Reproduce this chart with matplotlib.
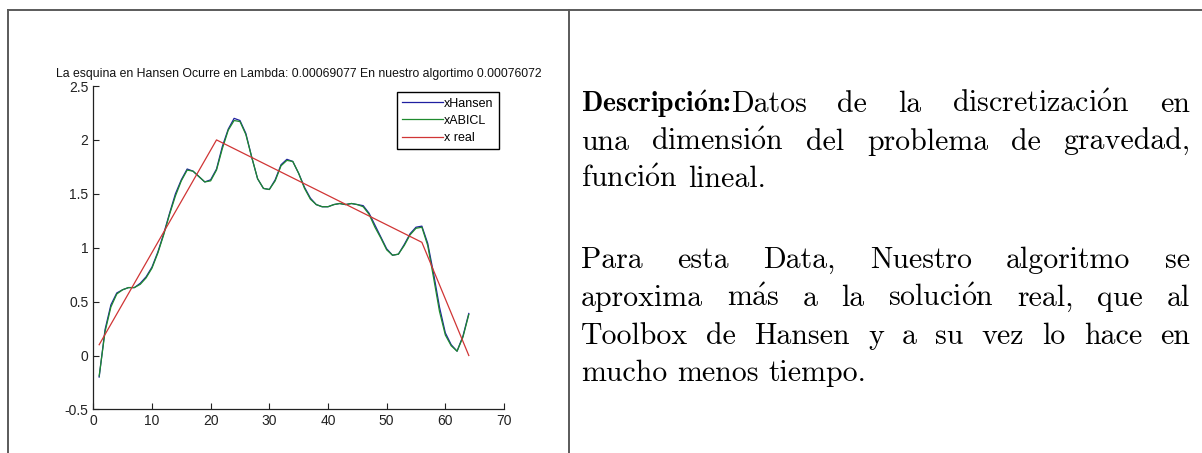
import numpy as np
import matplotlib
matplotlib.use("Agg")
import matplotlib.pyplot as plt
from matplotlib.lines import Line2D

# ---------------------------------------------------------------- data
idx = list(range(1, 65))
x_hansen = [-0.20, 0.24, 0.47, 0.58, 0.61, 0.63, 0.63, 0.67, 0.73, 0.82,
            0.96, 1.13, 1.32, 1.50, 1.63, 1.73, 1.71, 1.66, 1.61, 1.63,
            1.73, 1.94, 2.10, 2.20, 2.18, 2.06, 1.84, 1.64, 1.55, 1.54,
            1.63, 1.77, 1.82, 1.80, 1.69, 1.56, 1.46, 1.40, 1.38, 1.38,
            1.40, 1.41, 1.40, 1.41, 1.40, 1.39, 1.32, 1.21, 1.10, 0.99,
            0.93, 0.94, 1.03, 1.13, 1.19, 1.20, 1.04, 0.76, 0.45, 0.21,
            0.10, 0.04, 0.18, 0.39]
x_abicl = [-0.19, 0.22, 0.45, 0.57, 0.61, 0.63, 0.63, 0.66, 0.72, 0.81,
           0.95, 1.12, 1.31, 1.48, 1.62, 1.72, 1.71, 1.66, 1.61, 1.62,
           1.72, 1.92, 2.09, 2.18, 2.17, 2.05, 1.84, 1.64, 1.55, 1.54,
           1.62, 1.76, 1.81, 1.80, 1.69, 1.55, 1.45, 1.40, 1.38, 1.38,
           1.40, 1.41, 1.40, 1.41, 1.40, 1.38, 1.31, 1.19, 1.09, 0.98,
           0.93, 0.94, 1.02, 1.12, 1.18, 1.19, 1.02, 0.72, 0.41, 0.19,
           0.09, 0.04, 0.17, 0.38]
x_real_idx = [1, 21, 56, 64]
x_real_val = [0.10, 2.00, 1.05, 0.00]

series_labels = ["xHansen", "xABICL", "x real"]
x_ticks = [0, 10, 20, 30, 40, 50, 60, 70]
y_ticks = [-0.5, 0, 0.5, 1, 1.5, 2, 2.5]
y_tick_labels = ["-0.5", "0", "0.5", "1", "1.5", "2", "2.5"]
title_text = ("La esquina en Hansen Ocurre en Lambda: 0.00069077 "
              "En nuestro algortimo 0.00076072")

# ---------------------------------------------------------------- figure
W, H = 1202, 453
plt.rcParams["mathtext.fontset"] = "cm"
fig = plt.figure(figsize=(W / 100, H / 100), dpi=100)
fig.patch.set_facecolor("white")


def fx(px):
    return px / W


def fy(py):
    return 1 - py / H


# table rules
rule = dict(color="#5a5a5a", linewidth=1.4, transform=fig.transFigure)
fig.add_artist(Line2D([fx(7.5), 1.0], [fy(10), fy(10)], **rule))
fig.add_artist(Line2D([fx(8), fx(8)], [fy(10), 0.0], **rule))
fig.add_artist(Line2D([fx(569), fx(569)], [fy(10), 0.0], **rule))

# ---------------------------------------------------------------- plot
ax_l, ax_r, ax_t, ax_b = 93.3, 504.0, 86.0, 409.4
ax = fig.add_axes([fx(ax_l), fy(ax_b), fx(ax_r) - fx(ax_l), fy(ax_t) - fy(ax_b)])
sans = "Liberation Sans"

ax.plot(idx, x_hansen, color="#1f1fa0", linewidth=0.9, label=series_labels[0])
ax.plot(idx, x_abicl, color="#1f8a2e", linewidth=0.9, label=series_labels[1])
ax.plot(x_real_idx, x_real_val, color="#d03535", linewidth=0.9,
        label=series_labels[2])

ax.set_xlim(0, 70)
ax.set_ylim(-0.5, 2.5)
ax.set_xticks(x_ticks)
ax.set_xticklabels([str(t) for t in x_ticks], fontfamily=sans, fontsize=10)
ax.set_yticks(y_ticks)
ax.set_yticklabels(y_tick_labels, fontfamily=sans, fontsize=10)
ax.tick_params(direction="in", length=4, width=0.8, color="#222222",
               labelcolor="#222222", pad=3.5)
for side in ("top", "right"):
    ax.spines[side].set_visible(False)
for side in ("left", "bottom"):
    ax.spines[side].set_linewidth(0.9)
    ax.spines[side].set_color("#222222")
ax.set_title(title_text, fontfamily=sans, fontsize=8.8, color="#111111", pad=6.5)

leg = ax.legend(loc="upper right", bbox_to_anchor=(0.988, 0.9805),
                prop=dict(family=sans, size=9), frameon=True, fancybox=False,
                edgecolor="black", framealpha=1, handlelength=3.3,
                handletextpad=0.1, borderpad=0.42, labelspacing=0.42,
                borderaxespad=0)
leg.get_frame().set_linewidth(1.0)

# ---------------------------------------------------------------- description
renderer = fig.canvas.get_renderer()
FS = 21.5
body = dict(family="cmr10", size=FS, color="black")
bold = dict(family="cmb10", size=FS * 0.93, color="black")


def measure(s, style):
    t = fig.text(0, 0, s, **style)
    w = t.get_window_extent(renderer).width
    t.remove()
    return w


space = measure("a a", body) - measure("aa", body)


def draw_line(words, base_y, left, right, justify):
    # every word is a list of (text, style) pieces placed back to back
    widths = [[measure(s, st) for s, st in w] for w in words]
    total = sum(sum(ws) for ws in widths)
    gap = (right - left - total) / (len(words) - 1) if justify else space
    x = left
    for w, ws in zip(words, widths):
        for (s, st), wd in zip(w, ws):
            fig.text(fx(x), fy(base_y), s, ha="left", va="baseline", **st)
            x += wd
        x += gap


def plain(*tokens):
    return [[(tok, body)] for tok in tokens]


o_acute = r"$\mathrm{\acute{o}}$"
a_acute = r"$\mathrm{\acute{a}}$"

lines = [
    ([[(r"Descripci$\mathbf{\acute{o}}$n:", bold), ("Datos", body)]]
     + plain("de", "la", "discretizaci" + o_acute + "n", "en"), 112, True),
    (plain("una", "dimensi" + o_acute + "n", "del", "problema", "de",
           "gravedad,"), 150, True),
    (plain("funci" + o_acute + "n", "lineal."), 187, False),
    (plain("Para", "esta", "Data,", "Nuestro", "algoritmo", "se"), 268, True),
    (plain("aproxima", "m" + a_acute + "s", "a", "la",
           "soluci" + o_acute + "n", "real,", "que", "al"), 306, True),
    (plain("Toolbox", "de", "Hansen", "y", "a", "su", "vez", "lo", "hace",
           "en"), 344, True),
    (plain("mucho", "menos", "tiempo."), 381, False),
]
for words, base, just in lines:
    draw_line(words, base, 581, 1190, just)

fig.savefig("out.png", dpi=100, facecolor="white")
